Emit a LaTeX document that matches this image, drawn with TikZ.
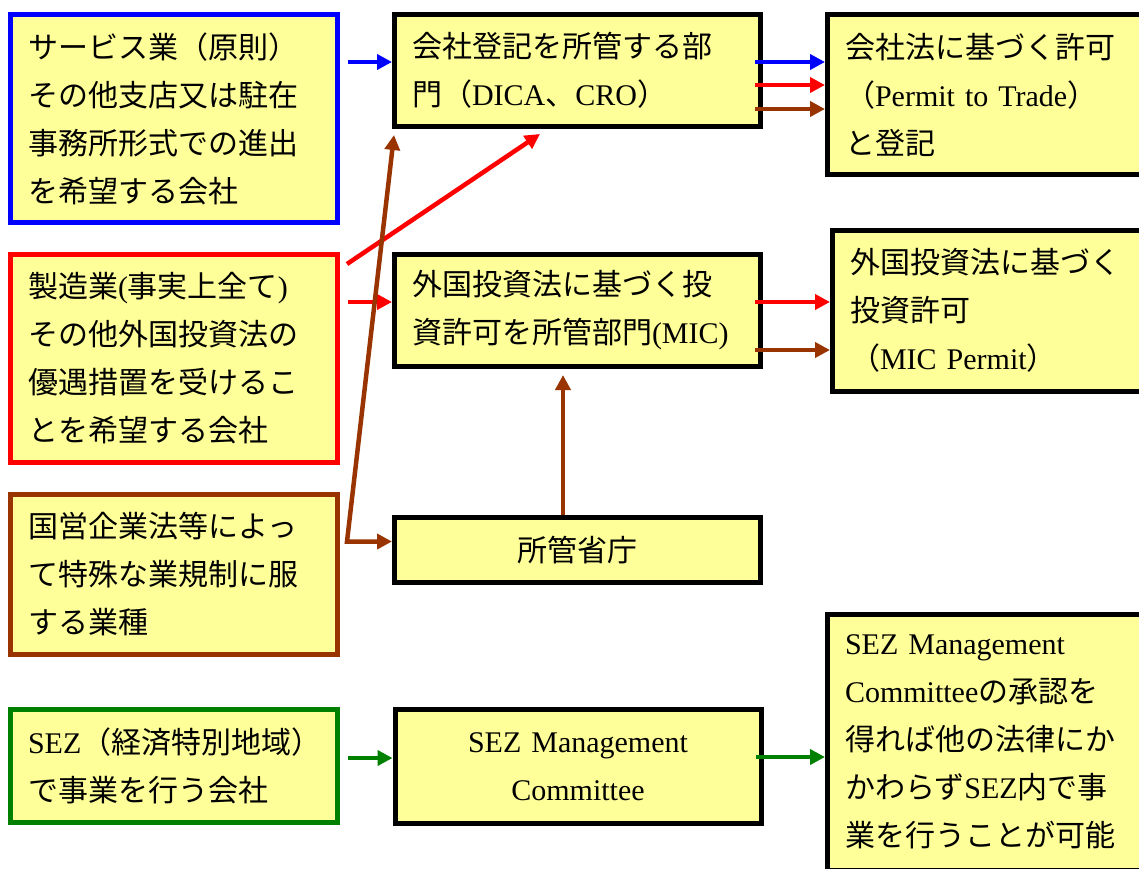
\documentclass[tikz,border=0pt]{standalone}
\usepackage{fontspec}
\setmainfont{Liberation Serif}
\newfontfamily\jpfont{Noto Sans CJK JP}
\usepackage{tikz}
\usetikzlibrary{arrows.meta}
\usepackage{xcolor}

\definecolor{boxyellow}{HTML}{FFFF99}
\definecolor{rust}{HTML}{993300}
\definecolor{sezgreen}{HTML}{008000}

% Japanese characters in the CJK font, everything else in the serif
\XeTeXinterchartokenstate=1
\newXeTeXintercharclass\jpclass
\makeatletter
\def\jprange#1#2{\count@=#1\relax
  \loop\XeTeXcharclass\count@=\jpclass
  \ifnum\count@<#2\advance\count@\@ne\repeat}
\jprange{"3000}{"30FF}
\jprange{"4E00}{"9FFF}
\jprange{"FF00}{"FFEF}
\makeatother
\XeTeXinterchartoks 0 \jpclass = {\jpfont}
\XeTeXinterchartoks 4095 \jpclass = {\jpfont}
\XeTeXinterchartoks \jpclass 0 = {\rmfamily}
\XeTeXinterchartoks \jpclass 4095 = {\rmfamily}

\tikzset{
  box/.style={draw, line width=5pt, fill=boxyellow, inner xsep=17.5pt,
    inner ysep=0pt, align=left, font=\fontsize{30}{48}\selectfont},
  arr/.style={line width=4.5pt, -{Triangle[length=15pt,width=15pt]}},
  arrboth/.style={line width=4.5pt,
    {Triangle[length=15pt,width=15pt]}-{Triangle[length=15pt,width=15pt]}}
}

\begin{document}
\begin{tikzpicture}[x=1pt, y=-1pt]
  \useasboundingbox (0,0) rectangle (1139,868);
  \def\lw{292pt}
  \def\mw{331pt}
  \def\rw{365pt}

  % applicants
  \node[box, draw=blue, text width=\lw, minimum height=208pt] (service) at (174,118.5)
    {サービス業（原則）\\その他支店又は駐在\\事務所形式での進出\\を希望する会社};
  \node[box, draw=red, text width=\lw, minimum height=208pt] (maker) at (174,358.5)
    {製造業(事実上全て)\\その他外国投資法の\\優遇措置を受けるこ\\とを希望する会社};
  \node[box, draw=rust, text width=\lw, minimum height=160pt] (state) at (174,574.5)
    {国営企業法等によっ\\て特殊な業規制に服\\する業種};
  \node[box, draw=sezgreen, text width=\lw, minimum height=113pt] (sez) at (174,766)
    {SEZ（経済特別地域）\\で事業を行う会社};

  % authorities
  \node[box, text width=\mw, minimum height=112pt] (dica) at (577.5,70.5)
    {会社登記を所管する部\\門（DICA、CRO）};
  \node[box, text width=\mw, minimum height=112pt] (mic) at (577.5,310.5)
    {外国投資法に基づく投\\資許可を所管部門(MIC)};
  \node[box, align=center, text width=\mw, minimum height=65pt] (office) at (577.5,550)
    {所管省庁};
  \node[box, align=center, text width=\mw, minimum height=114pt] (sezmc) at (578,766.5)
    {SEZ Management\\Committee};

  % results
  \node[box, text width=\rw, minimum height=160pt] (permit) at (1027.5,94.5)
    {会社法に基づく許可\\（Permit to Trade）\\と登記};
  \node[box, text width=\rw, minimum height=161pt] (micpermit) at (1032.5,310.5)
    {外国投資法に基づく\\投資許可\\（MIC Permit）};
  \node[box, text width=\rw, minimum height=256pt] (sezok) at (1027.5,742)
    {SEZ Management\\Committeeの承認を\\得れば他の法律にか\\かわらずSEZ内で事\\業を行うことが可能};

  \coordinate (bend) at (347,541.5);

  % blue route
  \draw[arr, blue] ([xshift=8pt, yshift=56.5pt]service.east) -- ([yshift=8.5pt]dica.west);
  \draw[arr, blue] ([xshift=-8pt, yshift=8.5pt]dica.east) -- (permit.west |- 0,62);
  % red route
  \draw[arr, red] ([xshift=8pt, yshift=56.5pt]maker.east) -- ([yshift=8.5pt]mic.west);
  \draw[arr, red] ([xshift=7pt, yshift=-12pt]maker.north east) -- ([xshift=-37.5pt, yshift=-5pt]dica.south);
  \draw[arr, red] ([xshift=-8pt, yshift=-14.5pt]dica.east) -- (permit.west |- 0,85);
  \draw[arr, red] ([xshift=-8pt, yshift=8.5pt]mic.east) -- (micpermit.west |- 0,302);
  % brown route
  \draw[arrboth, rust] ([xshift=2pt, yshift=-6pt]dica.south west) -- (bend) -- (office.west |- bend);
  \draw[arr, rust] ([xshift=-14.5pt]office.north) -- ([xshift=-14.5pt, yshift=-6pt]mic.south);
  \draw[arr, rust] ([xshift=-8pt, yshift=-38.5pt]dica.east) -- (permit.west |- 0,109);
  \draw[arr, rust] ([xshift=-8pt, yshift=-39.5pt]mic.east) -- (micpermit.west |- 0,350);
  % green route
  \draw[arr, sezgreen] ([xshift=8pt, yshift=8pt]sez.east) -- ([yshift=8.5pt]sezmc.west);
  \draw[arr, sezgreen] ([xshift=-8pt, yshift=9.5pt]sezmc.east) -- (sezok.west |- 0,757);
\end{tikzpicture}
\end{document}
